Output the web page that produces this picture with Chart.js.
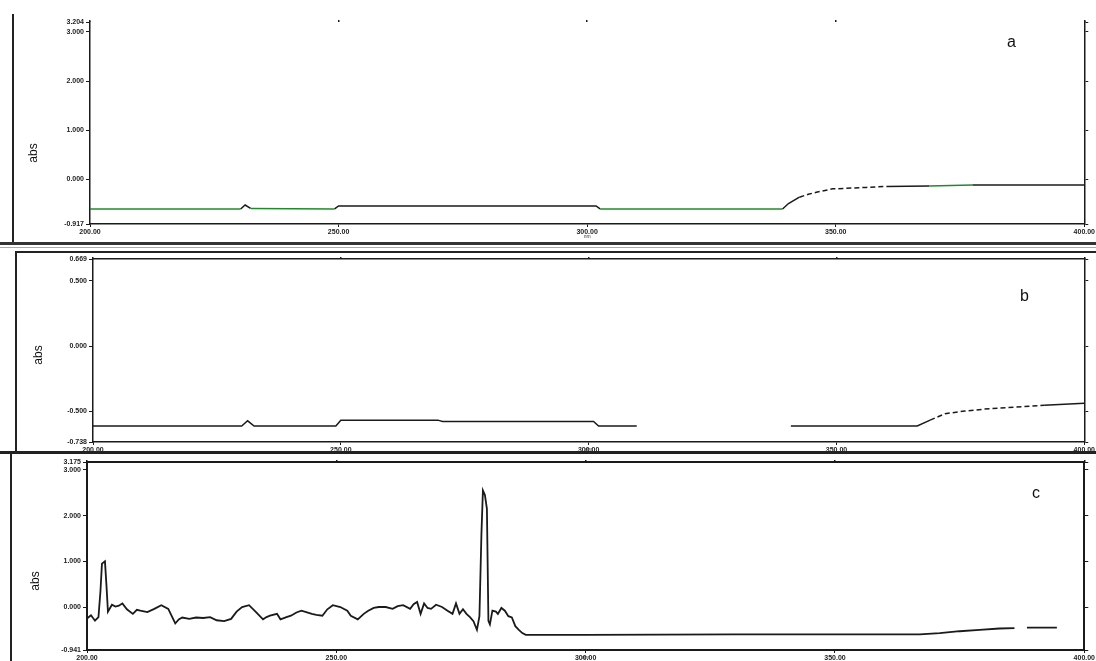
<!DOCTYPE html>
<html><head><meta charset="utf-8">
<script src="https://cdn.jsdelivr.net/npm/chart.js@4.4.1/dist/chart.umd.min.js"></script>
<style>
html,body{margin:0;padding:0;background:#fff;width:1096px;height:661px;overflow:hidden;position:relative;font-family:"Liberation Sans",Arial,sans-serif}
canvas{position:absolute;left:0}
.rule{position:absolute;background:#222}
.letter{position:absolute;font-size:16px;color:#111;font-family:"Liberation Sans",Arial,sans-serif}
.abs{position:absolute;font-size:12px;color:#111;transform:rotate(-90deg);transform-origin:center center;width:30px;text-align:center;line-height:14px}
</style></head><body>

<div class="rule" style="left:12px;top:14px;width:2px;height:228px"></div>
<div class="rule" style="left:0;top:242px;width:1096px;height:3px;background:#333"></div>
<div class="rule" style="left:0;top:247px;width:1096px;height:1px;background:#aaa"></div>
<div class="rule" style="left:15px;top:251px;width:1081px;height:1.5px"></div>
<div class="rule" style="left:15px;top:251px;width:2px;height:201px"></div>
<div class="rule" style="left:0;top:451px;width:1096px;height:2.5px"></div>
<div class="rule" style="left:10px;top:452px;width:2px;height:209px"></div>

<canvas id="ca" width="1096" height="240" style="top:0"></canvas>
<canvas id="cb" width="1096" height="201" style="top:252px"></canvas>
<canvas id="cc" width="1096" height="209" style="top:452px"></canvas>

<div class="abs" style="left:18px;top:146px">abs</div>
<div class="abs" style="left:23px;top:348px">abs</div>
<div class="abs" style="left:20px;top:574px">abs</div>
<div class="letter" style="left:1007px;top:33px">a</div>
<div class="letter" style="left:1020px;top:287px">b</div>
<div class="letter" style="left:1032px;top:484px">c</div>

<script>
const xTickValues = [200, 250, 300, 350, 400];

// Panel a
const panelA_nm  = [200, 230.3, 231.2, 232.3, 249.2, 250.0, 301.8, 302.6, 339.3, 340.5, 342.7, 344.5, 346.1, 349.4, 352.0, 356.2, 360.2, 368.8, 377.5, 400];
const panelA_abs = [-0.61, -0.61, -0.53, -0.60, -0.61, -0.55, -0.55, -0.61, -0.61, -0.50, -0.37, -0.31, -0.27, -0.20, -0.19, -0.17, -0.15, -0.14, -0.12, -0.12];
const panelA_yTicks = [-0.917, 0, 1, 2, 3, 3.204];
const panelA_greenRanges = [[200, 230.3], [232.3, 249.2], [302.6, 339.3], [368.8, 377.5]];
const panelA_dashRanges = [[342, 360]];

// Panel b
const panelB_nm  = [200, 230.0, 231.2, 232.5, 249.0, 250.0, 269.6, 270.5, 301.0, 302.0, 309.7, 325, 340.8, 366.3, 368.9, 371.9, 375.9, 379.9, 385.9, 391.9, 400];
const panelB_abs = [-0.615, -0.615, -0.575, -0.615, -0.615, -0.57, -0.57, -0.58, -0.58, -0.615, -0.615, null, -0.615, -0.615, -0.57, -0.52, -0.50, -0.485, -0.47, -0.455, -0.44];
const panelB_yTicks = [-0.738, -0.5, 0, 0.5, 0.669];
const panelB_dashRanges = [[368, 392]];

// Panel c
const panelC_nm = [200.0, 200.8, 201.6, 202.3, 202.7, 203.0, 203.6, 203.9, 204.2, 205.0, 205.7, 206.4, 207.1, 208.0, 209.2, 210.0, 210.7, 212.1, 213.5, 214.9, 216.3, 217.0, 217.7, 218.4, 219.1, 220.5, 221.9, 223.3, 224.7, 226.0, 227.5, 228.9, 230.0, 231.1, 232.5, 233.9, 235.3, 236.0, 236.7, 238.1, 238.8, 240.0, 240.9, 242.0, 243.0, 245.1, 246.0, 247.2, 248.2, 249.3, 250.8, 252.2, 252.9, 254.3, 255.5, 256.4, 257.5, 258.5, 259.9, 261.3, 262.3, 263.4, 264.8, 265.5, 266.2, 266.9, 267.6, 268.3, 269.0, 270.0, 271.2, 272.3, 273.3, 274.0, 274.7, 275.4, 276.1, 276.8, 277.5, 278.2, 278.7, 279.1, 279.4, 279.8, 280.2, 280.5, 280.8, 281.3, 282.0, 282.4, 283.1, 283.8, 284.5, 285.2, 285.9, 286.6, 287.3, 288.0, 300, 330, 367, 371, 375, 379, 383, 386, 387, 388.5, 394.5];
const panelC_abs = [-0.25, -0.18, -0.30, -0.22, 0.35, 0.95, 1.00, 0.48, -0.10, 0.05, 0.01, 0.03, 0.08, -0.05, -0.15, -0.06, -0.08, -0.11, -0.04, 0.04, -0.04, -0.20, -0.36, -0.27, -0.23, -0.26, -0.23, -0.24, -0.22, -0.29, -0.31, -0.26, -0.10, 0.00, 0.04, -0.11, -0.27, -0.22, -0.19, -0.15, -0.27, -0.22, -0.19, -0.12, -0.08, -0.15, -0.17, -0.19, -0.05, 0.04, 0.00, -0.08, -0.19, -0.27, -0.15, -0.08, -0.02, 0.00, 0.00, -0.04, 0.02, 0.04, -0.04, 0.06, 0.11, -0.15, 0.08, -0.02, -0.04, 0.05, 0.00, -0.08, -0.15, 0.08, -0.15, -0.05, -0.15, -0.22, -0.31, -0.50, -0.20, 1.60, 2.55, 2.45, 2.15, -0.30, -0.38, -0.08, -0.10, -0.15, -0.02, -0.08, -0.20, -0.23, -0.42, -0.50, -0.57, -0.61, -0.61, -0.60, -0.60, -0.57, -0.53, -0.50, -0.47, -0.46, null, -0.45, -0.45];
const panelC_yTicks = [-0.941, 0, 1, 2, 3, 3.175];
const panelC_dashRanges = [];

const GREEN = '#1f8a2a';
const BLACK = '#1a1a1a';
const tickFont = {family: '"Liberation Sans", Arial, sans-serif', size: 7, weight: 'bold'};

function inRanges(x, ranges) {
  return ranges.some(r => x >= r[0] && x <= r[1]);
}

function makePanel(id, nm, abs, yTicks, box, style) {
  const pts = nm.map((x, i) => ({x: x, y: abs[i]}));
  const setX = s => { s.ticks = xTickValues.map(v => ({value: v})); };
  const setY = s => { s.ticks = yTicks.map(v => ({value: v})); };
  const bw = style.borderWidth;
  new Chart(document.getElementById(id), {
    type: 'line',
    data: {datasets: [{
      data: pts,
      borderColor: BLACK,
      borderWidth: style.lineWidth,
      pointRadius: 0,
      tension: 0,
      spanGaps: false,
      segment: {
        borderColor: ctx => {
          const m = (ctx.p0.parsed.x + ctx.p1.parsed.x) / 2;
          return inRanges(m, style.greenRanges || []) ? GREEN : BLACK;
        },
        borderDash: ctx => {
          const m = (ctx.p0.parsed.x + ctx.p1.parsed.x) / 2;
          return inRanges(m, style.dashRanges || []) ? [5, 3] : undefined;
        }
      }
    }]},
    options: {
      responsive: false, animation: false, events: [],
      layout: {padding: 0},
      plugins: {legend: {display: false}, tooltip: {enabled: false}},
      scales: {
        x: {
          type: 'linear', position: 'bottom', min: 200, max: 400,
          afterBuildTicks: setX,
          afterFit: s => { s.height = box.bottom; },
          ticks: {autoSkip: false, maxRotation: 0, padding: 1, color: '#222', font: tickFont, callback: v => v.toFixed(2)},
          grid: {drawOnChartArea: false, tickLength: 3, color: BLACK, lineWidth: 1},
          border: {display: true, color: BLACK, width: bw},
          title: {display: true, text: 'nm', color: '#333', font: {size: 5, family: tickFont.family}, padding: 0}
        },
        x2: {
          type: 'linear', position: 'top', min: 200, max: 400,
          afterBuildTicks: setX,
          afterFit: s => { s.height = box.top; },
          ticks: {display: false},
          grid: {drawOnChartArea: false, tickLength: 2, color: BLACK, lineWidth: 1.5},
          border: {display: style.topBorder, color: BLACK, width: bw}
        },
        y: {
          type: 'linear', position: 'left', min: yTicks[0], max: yTicks[yTicks.length - 1],
          afterBuildTicks: setY,
          afterFit: s => { s.width = box.left; },
          ticks: {autoSkip: false, padding: 2, color: '#222', font: tickFont, callback: v => v.toFixed(3)},
          grid: {drawOnChartArea: false, tickLength: 4, color: BLACK, lineWidth: 1},
          border: {display: true, color: BLACK, width: bw}
        },
        y2: {
          type: 'linear', position: 'right', min: yTicks[0], max: yTicks[yTicks.length - 1],
          afterBuildTicks: setY,
          afterFit: s => { s.width = box.right; },
          ticks: {display: false},
          grid: {drawOnChartArea: false, tickLength: 4, color: BLACK, lineWidth: 1},
          border: {display: true, color: BLACK, width: bw}
        }
      }
    }
  });
}

makePanel('ca', panelA_nm, panelA_abs, panelA_yTicks,
  {left: 90, right: 11, top: 22, bottom: 16},
  {borderWidth: 1.5, lineWidth: 1.5, topBorder: false, greenRanges: panelA_greenRanges, dashRanges: panelA_dashRanges});
makePanel('cb', panelB_nm, panelB_abs, panelB_yTicks,
  {left: 93, right: 6, top: 7, bottom: 11},
  {borderWidth: 1.5, lineWidth: 1.5, topBorder: true, dashRanges: panelB_dashRanges});
makePanel('cc', panelC_nm, panelC_abs, panelC_yTicks,
  {left: 87, right: 8, top: 10, bottom: 11},
  {borderWidth: 2, lineWidth: 1.8, topBorder: true, dashRanges: panelC_dashRanges});
</script>
</body></html>
